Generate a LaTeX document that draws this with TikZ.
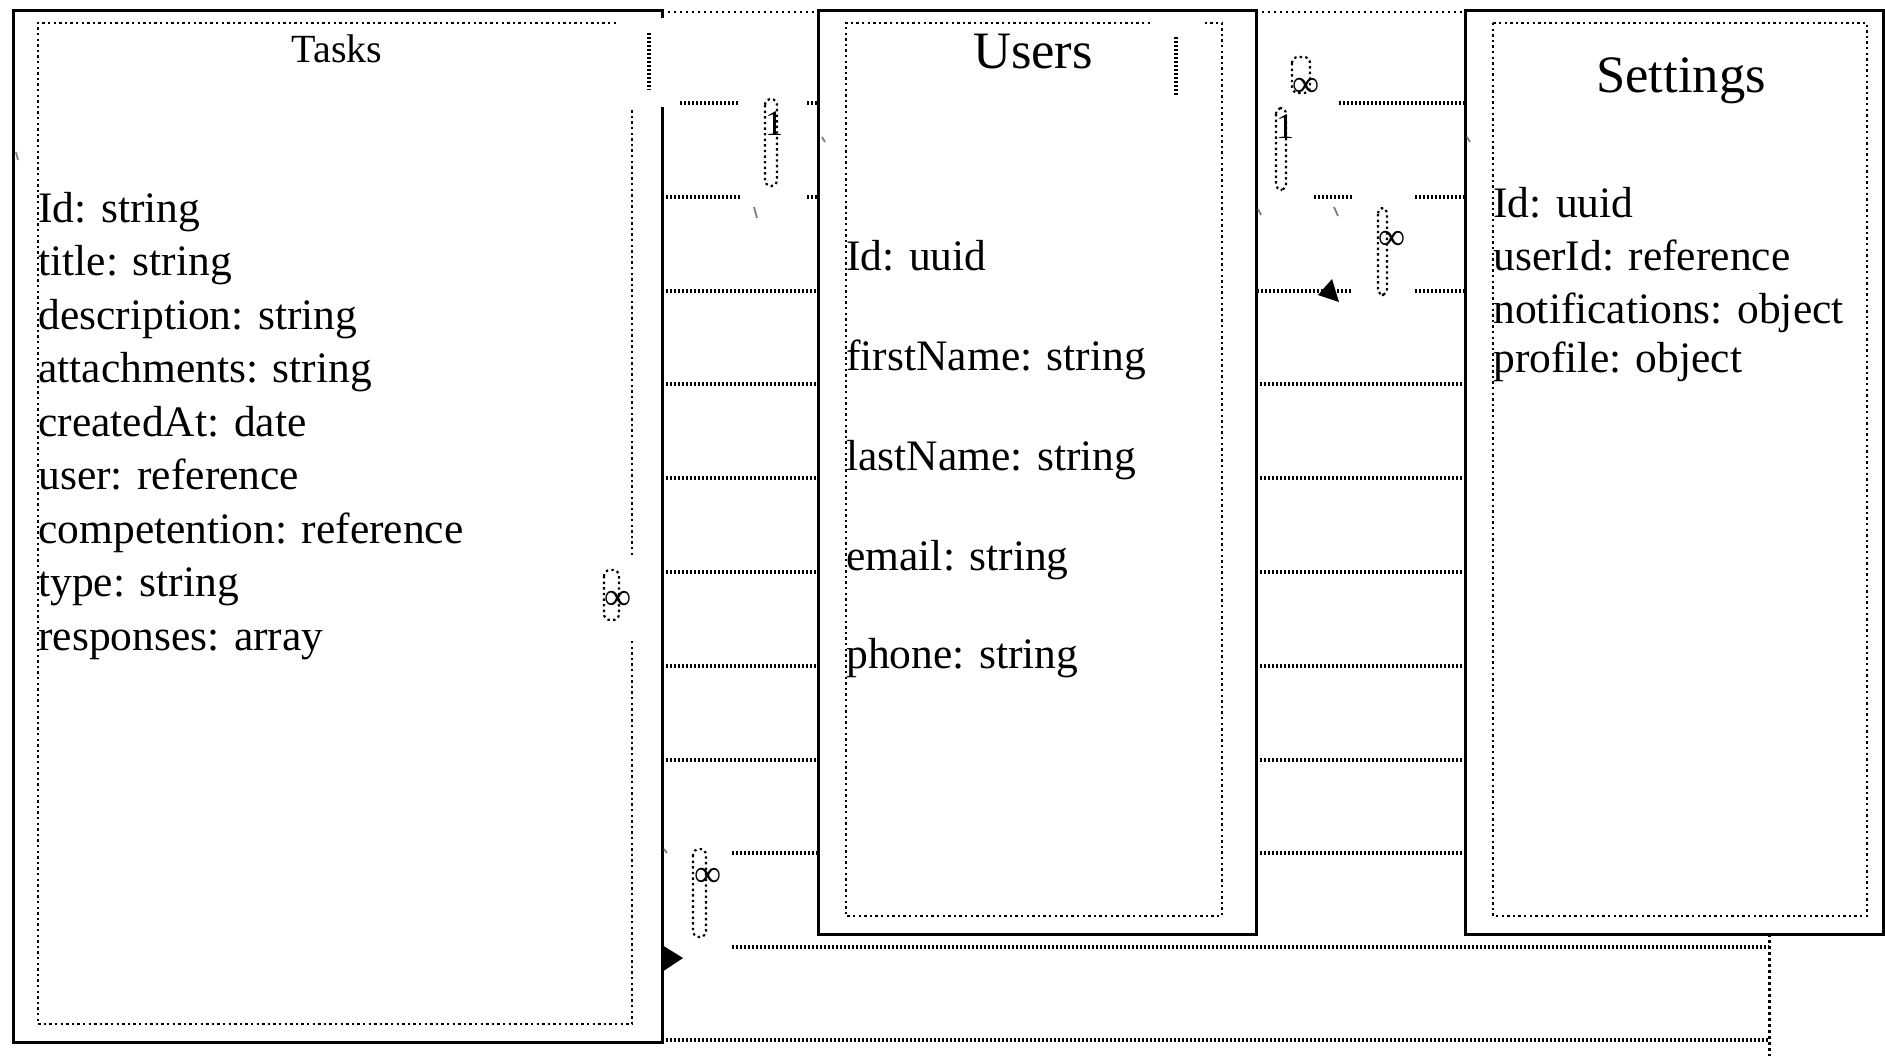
\documentclass[tikz,border=0pt]{standalone}
\usepackage{fontspec}
\setmainfont{Liberation Serif}
\begin{document}
\begin{tikzpicture}[x=0.5pt,y=-0.5pt,
  outerline/.style={line width=1.5pt},
  dotbox/.style={line width=1.2pt, dash pattern=on 1.2pt off 1.6pt},
  topdots/.style={line width=1pt, dash pattern=on 1.2pt off 1.8pt},
  checker/.style={line width=2pt, dash pattern=on 1pt off 1pt},
  lbox/.style={line width=1.1pt, dash pattern=on 1.2pt off 1.6pt, rounded corners=3pt},
  field/.style={anchor=base west, inner sep=0pt, font=\fontsize{21.75}{24}\selectfont},
  smalltitle/.style={anchor=base, inner sep=0pt, font=\fontsize{20}{24}\selectfont},
  bigtitle/.style={anchor=base, inner sep=0pt, font=\fontsize{26.3}{30}\selectfont},
  mult/.style={anchor=base, inner sep=0pt, font=\fontsize{18}{20}\selectfont},
  inf/.style={anchor=center, inner sep=0pt, font=\fontsize{19}{20}\selectfont},
  tick/.style={line width=0.9pt, gray}
]
\useasboundingbox (0,0) rectangle (1885,1056);

% ---------- Tasks ----------
\draw[outerline] (662,18) -- (662,10) -- (13,10) -- (13,1042) -- (662,1042) -- (662,107);
\draw[dotbox] (616,23) -- (38,23) -- (38,1024) -- (632,1024) -- (632,640);
\draw[dotbox] (632,555) -- (632,108);
\draw[checker] (649,33) -- (649,90);
\node[smalltitle] (tasksT) at (337,62) {Tasks};
\node[field] (t1) at (38,222) {Id: string};
\node[field] (t2) at (38,275.5) {title: string};
\node[field] (t3) at (38,329) {description: string};
\node[field] (t4) at (38,382.5) {attachments: string};
\node[field] (t5) at (38,436) {createdAt: date};
\node[field] (t6) at (38,489.5) {user: reference};
\node[field] (t7) at (38,543) {competention: reference};
\node[field] (t8) at (38,596.5) {type: string};
\node[field] (t9) at (38,650) {responses: array};

% ---------- Users ----------
\draw[outerline] (818,10) rectangle (1256,934);
\draw[dotbox] (1150,23) -- (846,23) -- (846,916) -- (1222,916) -- (1222,23) -- (1202,23);
\draw[checker] (1176,37) -- (1176,97);
\node[bigtitle] (usersT) at (1033,68) {Users};
\node[field] (u1) at (846,270) {Id: uuid};
\node[field] (u2) at (846,370) {firstName: string};
\node[field] (u3) at (846,470) {lastName: string};
\node[field] (u4) at (846,570) {email: string};
\node[field] (u5) at (846,668) {phone: string};

% ---------- Settings ----------
\draw[outerline] (1465,10) rectangle (1883,934);
\draw[outerline] (1883,934) -- (1885,934);
\draw[dotbox] (1493,23) rectangle (1867,916);
\node[bigtitle] (settingsT) at (1681,92) {Settings};
\node[field] (s1) at (1493,217) {Id: uuid};
\node[field] (s2) at (1493,270) {userId: reference};
\node[field] (s3) at (1493,323) {notifications: object};
\node[field] (s4) at (1493,372) {profile: object};

% ---------- top dotted lines ----------
\draw[topdots] (662,12) -- (818,12);
\draw[topdots] (1256,12) -- (1465,12);

% ---------- horizontal lines between Tasks and Users ----------
\draw[checker] (680,103) -- (740,103);
\draw[checker] (807,103) -- (818,103);
\draw[checker] (662,197) -- (740,197);
\draw[checker] (807,197) -- (818,197);
\foreach \yy in {290.6,384.4,478.2,572,665.8,759.6} {
  \draw[checker] (662,\yy) -- (818,\yy);
}
\draw[checker] (732,853.4) -- (818,853.4);

% ---------- horizontal lines between Users and Settings ----------
\draw[checker] (1339,103) -- (1465,103);
\draw[checker] (1314,197) -- (1352,197);
\draw[checker] (1415,197) -- (1465,197);
\draw[checker] (1257,290.6) -- (1352,290.6);
\draw[checker] (1415,290.6) -- (1465,290.6);
\foreach \yy in {384.4,478.2,572,665.8,759.6,853.4} {
  \draw[checker] (1256,\yy) -- (1465,\yy);
}

% ---------- bottom lines ----------
\draw[checker] (732,947.2) -- (1769,947.2);
\draw[checker] (662,1040) -- (1769,1040);
\draw[line width=1.5pt, dash pattern=on 1.3pt off 1.7pt] (1769,934) -- (1769,1056);

% ---------- multiplicity labels ----------
\draw[lbox] (765,99) rectangle (777,186);
\node[mult] (m1) at (774,135) {1};
\draw[lbox] (1276,108) rectangle (1286,190);
\node[mult] (m2) at (1285,138) {1};
\draw[lbox] (1292,57) rectangle (1310,93);
\node[inf] (i1) at (1306,87) {∞};
\draw[lbox] (1378,208) rectangle (1387,295);
\node[inf] (i2) at (1392,240) {∞};
\draw[lbox] (604,570) rectangle (619,620);
\node[inf] (i3) at (618,600) {∞};
\draw[lbox] (693,849) rectangle (706,937);
\node[inf] (i4) at (708,877) {∞};

% ---------- arrowheads ----------
\fill (662,945) -- (683,958) -- (662,972) -- cycle;
\fill (1332,279) -- (1318,295) -- (1339,302) -- cycle;

% ---------- tiny marks ----------
\draw[tick] (16,152) -- (18,160);
\draw[tick] (754,207) -- (757,218);
\draw[tick] (822,137) -- (825,142);
\draw[tick] (1258,209) -- (1261,215);
\draw[tick] (1334,207) -- (1338,216);
\draw[tick] (1467,137) -- (1470,142);
\draw[tick] (664,849) -- (667,853);
\end{tikzpicture}
\end{document}
